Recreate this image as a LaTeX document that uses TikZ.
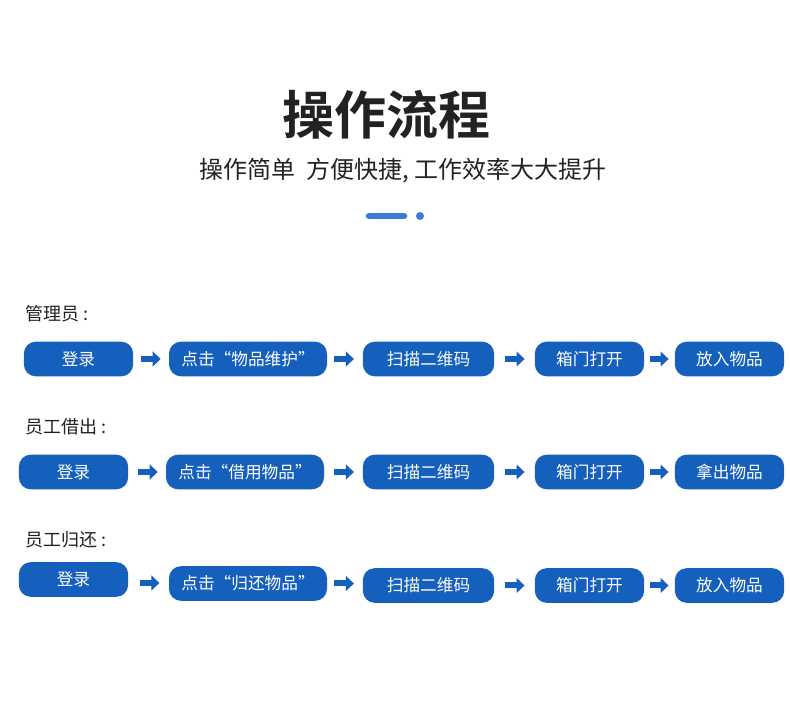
\documentclass[tikz,border=0pt]{standalone}
\usepackage{fontspec}
\setmainfont{Noto Sans CJK SC}
\newfontfamily\titlefont{Noto Sans CJK SC Bold}
\usetikzlibrary{arrows.meta, positioning}
\definecolor{boxblue}{HTML}{1560BD}
\definecolor{barblue}{HTML}{3A7BD5}
\definecolor{darktext}{HTML}{222222}

\newcommand{\flow}[4]{\draw[arrow, shorten <=#3, shorten >=#4] (#1.east) -- (#2.west |- #1.east);}

\begin{document}
\begin{tikzpicture}[x=0.75pt, y=-0.75pt,
      stepbox/.style={draw=none, rounded corners=9pt, fill=boxblue, text=white, minimum height=26pt, inner sep=0pt, font=\fontsize{12.5}{14}\selectfont},
      wide/.style={stepbox, minimum width=118.5pt},
      mid/.style={stepbox, minimum width=98.5pt},
      short/.style={stepbox, minimum width=82pt},
      rowlabel/.style={anchor=west, inner sep=0pt, text=darktext, font=\fontsize{13.5}{15}\selectfont},
      arrow/.style={-{Triangle[length=6pt, width=11pt]}, line width=4.5pt, boxblue},
    ]
    \useasboundingbox (0,0) rectangle (790,716);

    % Title
    \node[text=darktext, font=\titlefont\fontsize{39}{44}\selectfont] (title) at (386,115) {操作流程};
    \node[text=darktext, font=\fontsize{18}{22}\selectfont] (sub) at (403,171) {操作简单\ \ 方便快捷, 工作效率大大提升};
    \draw[barblue, line width=5pt, line cap=round] (369,216) -- (404,216);
    \fill[barblue] (420,216) circle (3pt);

    % Row 1
    \node[rowlabel] (lab1) at (25,314) {管理员 :};
    \node[short] (a1) at (78.5,359) {登录};
    \node[wide] (a2) at (248,359) {点击“物品维护”};
    \node[mid] (a3) at (428.5,359) {扫描二维码};
    \node[short] (a4) at (589.5,359) {箱门打开};
    \node[short] (a5) at (729.5,359) {放入物品};

    % Row 2
    \node[rowlabel] (lab2) at (25,427) {员工借出 :};
    \node[short] (b1) at (73.5,472) {登录};
    \node[wide] (b2) at (245,472) {点击“借用物品”};
    \node[mid] (b3) at (428.5,472) {扫描二维码};
    \node[short] (b4) at (589.5,472) {箱门打开};
    \node[short] (b5) at (729.5,472) {拿出物品};

    % Row 3
    \node[rowlabel] (lab3) at (25,540) {员工归还 :};
    \node[short] (c1) at (73.5,579.5) {登录};
    \node[wide] (c2) at (248,583.5) {点击“归还物品”};
    \node[mid] (c3) at (428.5,585.5) {扫描二维码};
    \node[short] (c4) at (589.5,585.5) {箱门打开};
    \node[short] (c5) at (729.5,585.5) {放入物品};

    % Arrows
    \flow{a1}{a2}{6pt}{6pt}
    \flow{a2}{a3}{5pt}{6.5pt}
    \flow{a3}{a4}{8pt}{7.5pt}
    \flow{a4}{a5}{4pt}{4.5pt}
    \flow{b1}{b2}{7.5pt}{6pt}
    \flow{b2}{b3}{7.5pt}{6.5pt}
    \flow{b3}{b4}{8pt}{7.5pt}
    \flow{b4}{b5}{4pt}{4.5pt}
    \draw[arrow, shorten <=9pt, shorten >=7pt] (c1.east |- 0,583) -- (c2.west |- 0,583);
    \flow{c2}{c3}{5pt}{6.5pt}
    \draw[arrow, shorten <=8pt, shorten >=7.5pt] (c3.east) -- (c4.west);
    \flow{c4}{c5}{4pt}{4.5pt}
\end{tikzpicture}
\end{document}
